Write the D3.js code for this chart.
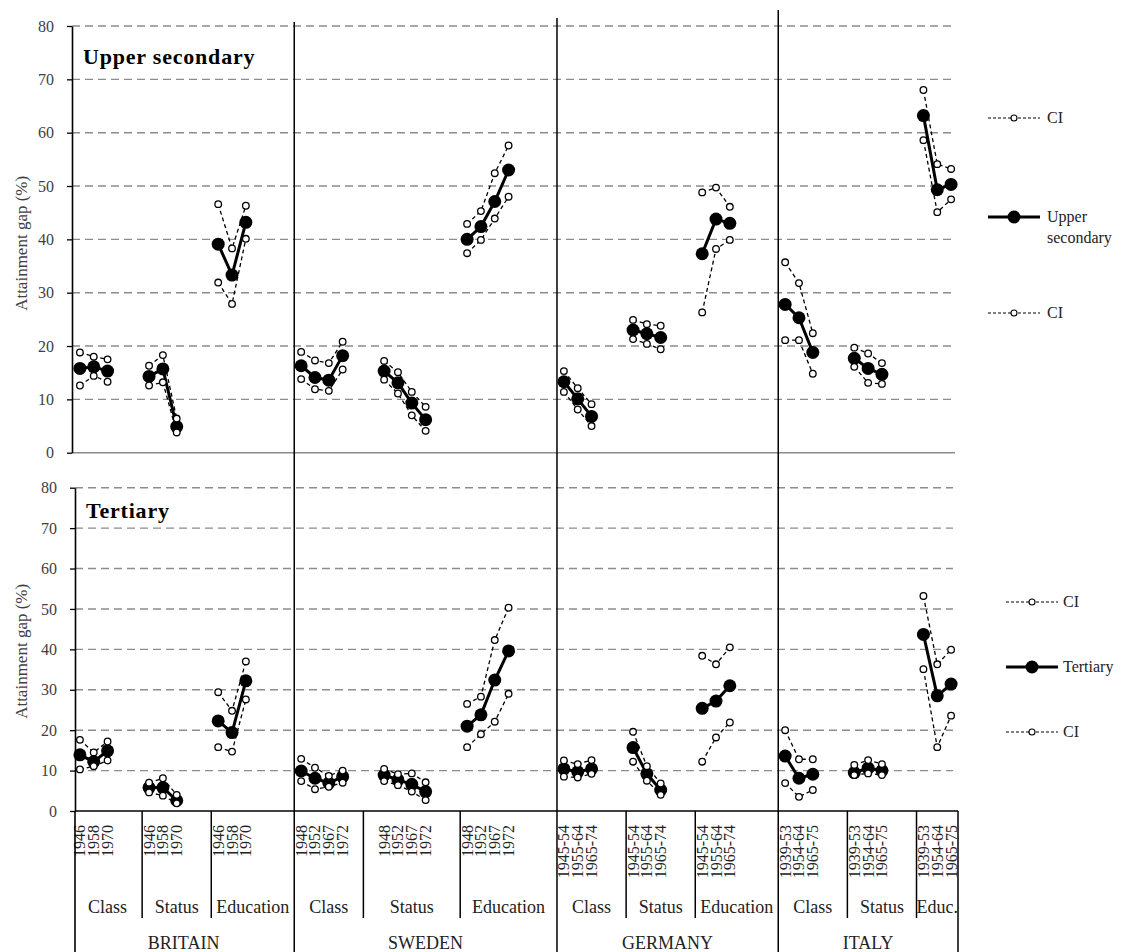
<!DOCTYPE html>
<html>
<head>
<meta charset="utf-8">
<script src="https://cdn.jsdelivr.net/npm/d3@7"></script>
<style>
  html, body { margin: 0; padding: 0; background: #fff; }
  svg text { font-family: "Liberation Serif", "DejaVu Serif", serif; }
</style>
</head>
<body>
<svg id="chart" width="1127" height="952"></svg>
<script>
// ---- Data -------------------------------------------------------------
const countries = ["BRITAIN", "SWEDEN", "GERMANY", "ITALY"];
const categoryNames = [
  ["Class", "Status", "Education"],
  ["Class", "Status", "Education"],
  ["Class", "Status", "Education"],
  ["Class", "Status", "Educ."]
];
const cohorts = [
  ["1946", "1958", "1970"],
  ["1948", "1952", "1967", "1972"],
  ["1945-54", "1955-64", "1965-74"],
  ["1939-53", "1954-64", "1965-75"]
];
const yTicks = [0, 10, 20, 30, 40, 50, 60, 70, 80];

// Upper secondary: attainment gap (%), country -> origin measure -> cohort
const usGap = [
  [[15.8, 16.1, 15.3], [14.3, 15.7, 4.9], [39.1, 33.3, 43.2]],
  [[16.3, 14.1, 13.6, 18.2], [15.3, 13.1, 9.3, 6.2], [40.0, 42.4, 47.1, 53.0]],
  [[13.3, 10.1, 6.8], [23.0, 22.3, 21.6], [37.3, 43.8, 43.0]],
  [[27.8, 25.3, 18.8], [17.7, 15.8, 14.7], [63.2, 49.3, 50.3]]
];
const usHigh = [
  [[18.8, 18.0, 17.5], [16.3, 18.3, 6.4], [46.6, 38.3, 46.3]],
  [[18.9, 17.3, 16.8, 20.8], [17.2, 15.1, 11.4, 8.6], [42.9, 45.3, 52.4, 57.6]],
  [[15.3, 12.1, 9.1], [24.9, 24.1, 23.8], [48.8, 49.7, 46.1]],
  [[35.7, 31.8, 22.4], [19.7, 18.6, 16.8], [68.0, 54.1, 53.2]]
];
const usLow = [
  [[12.6, 14.4, 13.3], [12.6, 13.2, 3.8], [31.9, 27.9, 40.1]],
  [[13.8, 11.9, 11.6, 15.6], [13.7, 11.1, 7.0, 4.1], [37.4, 39.9, 43.9, 48.0]],
  [[11.4, 8.1, 5.0], [21.3, 20.4, 19.4], [26.3, 38.2, 39.9]],
  [[21.1, 21.1, 14.8], [16.1, 13.1, 12.9], [58.6, 45.1, 47.5]]
];

// Tertiary: attainment gap (%)
const terGap = [
  [[13.9, 12.2, 14.9], [5.8, 5.8, 2.6], [22.3, 19.4, 32.2]],
  [[9.9, 8.1, 6.9, 8.5], [8.9, 7.7, 6.6, 4.8], [21.0, 23.8, 32.4, 39.6]],
  [[10.4, 9.7, 10.4], [15.7, 9.2, 5.2], [25.4, 27.2, 31.0]],
  [[13.6, 8.1, 9.1], [9.5, 10.6, 10.0], [43.7, 28.5, 31.4]]
];
const terHigh = [
  [[17.6, 14.5, 17.2], [7.0, 8.1, 4.0], [29.4, 24.8, 37.0]],
  [[12.9, 10.7, 8.7, 10.0], [10.4, 9.1, 9.3, 7.1], [26.5, 28.3, 42.3, 50.3]],
  [[12.5, 11.6, 12.6], [19.6, 11.1, 6.8], [38.4, 36.3, 40.5]],
  [[20.0, 12.8, 12.8], [11.4, 12.6, 11.6], [53.2, 36.3, 39.9]]
];
const terLow = [
  [[10.3, 11.1, 12.5], [4.6, 3.8, 1.9], [15.8, 14.7, 27.6]],
  [[7.4, 5.4, 6.0, 7.0], [7.4, 6.4, 4.8, 2.7], [15.8, 19.0, 22.1, 29.0]],
  [[8.5, 8.3, 9.2], [12.2, 7.5, 4.0], [12.2, 18.2, 21.9]],
  [[6.9, 3.5, 5.2], [8.9, 9.3, 8.9], [35.1, 15.8, 23.6]]
];

// ---- Layout: category cells measured in cohort slots --------------------
const cellSlots = [[5, 5, 6], [5, 7, 7], [5, 5, 6], [5, 5, 3]];
const cellLead = [[0, 0, 0], [0, 1, 0], [0, 0, 0], [0, 0, 0]];

// Build slot positions for every cell
const cells = [];
let cursor = 0;
countries.forEach((c, ci) => {
  const start = cursor;
  cellSlots[ci].forEach((n, k) => {
    cells.push({ ci, k, start: cursor, end: cursor + n, first: cursor + cellLead[ci][k] });
    cursor += n;
  });
  cells.filter(d => d.ci === ci).forEach(d => { d.countryStart = start; d.countryEnd = cursor; });
});
const totalSlots = cursor;

const svg = d3.select("#chart");
svg.append("rect").attr("width", 1127).attr("height", 952).attr("fill", "#fff");

// slot i is centred at x(i); cell boundaries at x(i - 0.5)
const x = d3.scaleLinear().domain([-0.5, totalSlots - 0.5]).range([73, 958]);

const panels = [
  { title: "Upper secondary", gap: usGap, high: usHigh, low: usLow,
    y: d3.scaleLinear().domain([0, 80]).range([452.7, 26]),
    axisX: 72, gridEnd: 955, titleX: 83, titleY: 64, legendName: ["Upper", "secondary"],
    legend: { x0: 988, x1: 1040, tx: 1047, ys: [118, 217, 313] } },
  { title: "Tertiary", gap: terGap, high: terHigh, low: terLow,
    y: d3.scaleLinear().domain([0, 80]).range([811, 487.7]),
    axisX: 75, gridEnd: 953, titleX: 86, titleY: 518, legendName: ["Tertiary"],
    legend: { x0: 1006, x1: 1058, tx: 1063, ys: [602, 667, 732] } }
];

const gridColor = "#8c8c8c";
const textGray = "#404040";

panels.forEach((p, pi) => {
  const g = svg.append("g");
  // dashed gridlines
  g.selectAll("line.grid").data(yTicks.filter(t => t > 0)).join("line")
    .attr("x1", p.axisX).attr("x2", p.gridEnd)
    .attr("y1", d => p.y(d)).attr("y2", d => p.y(d))
    .attr("stroke", gridColor).attr("stroke-width", 1.4)
    .attr("stroke-dasharray", "8,5");
  // zero line
  g.append("line")
    .attr("x1", p.axisX).attr("x2", pi === 0 ? p.gridEnd : x(totalSlots - 0.5))
    .attr("y1", p.y(0)).attr("y2", p.y(0))
    .attr("stroke", pi === 0 ? gridColor : "#000").attr("stroke-width", 1.6);

  // y axis
  const ax = g.append("g").attr("transform", `translate(${p.axisX},0)`)
    .call(d3.axisLeft(p.y).tickValues(yTicks).tickSize(5).tickSizeOuter(0).tickPadding(13));
  ax.select(".domain").attr("stroke", "#000").attr("stroke-width", 1.6);
  ax.selectAll(".tick line").attr("stroke", "#000").attr("stroke-width", 1.3);
  ax.selectAll(".tick text").attr("font-size", 16).attr("fill", textGray)
    .attr("font-family", "Liberation Serif");

  // axis title
  const ym = (p.y(0) + p.y(80)) / 2 + (pi === 0 ? 4 : 2);
  g.append("text")
    .attr("transform", `translate(27,${ym}) rotate(-90)`)
    .attr("text-anchor", "middle").attr("font-size", 17).attr("fill", textGray)
    .text("Attainment gap (%)");

  // panel title
  g.append("text").attr("x", p.titleX).attr("y", p.titleY)
    .attr("font-size", 22).attr("font-weight", "bold").attr("letter-spacing", 0.8)
    .attr("fill", "#000").text(p.title);

  // series
  const line = d3.line().x(d => x(d.slot)).y(d => p.y(d.v));
  cells.forEach(cell => {
    const mk = arr => arr[cell.ci][cell.k].map((v, i) => ({ v, slot: cell.first + i }));
    const main = mk(p.gap), hi = mk(p.high), lo = mk(p.low);
    const sg = g.append("g");
    sg.append("path").attr("d", line(main)).attr("fill", "none")
      .attr("stroke", "#000").attr("stroke-width", 3);
    sg.selectAll("circle.main").data(main).join("circle")
      .attr("cx", d => x(d.slot)).attr("cy", d => p.y(d.v)).attr("r", 6.5).attr("fill", "#000");
    [hi, lo].forEach(ci => {
      sg.append("path").attr("d", line(ci)).attr("fill", "none")
        .attr("stroke", "#000").attr("stroke-width", 1.3).attr("stroke-dasharray", "4,3");
    });
    [hi, lo].forEach(ci => {
      sg.selectAll(null).data(ci).join("circle")
        .attr("cx", d => x(d.slot)).attr("cy", d => p.y(d.v)).attr("r", 3.3)
        .attr("fill", "#fff").attr("stroke", "#000").attr("stroke-width", 1.3);
    });
  });

  // legend
  const L = p.legend;
  const lg = svg.append("g");
  [0, 1, 2].forEach(i => {
    const yy = L.ys[i];
    const isMain = i === 1;
    lg.append("line").attr("x1", L.x0).attr("x2", L.x1).attr("y1", yy).attr("y2", yy)
      .attr("stroke", "#000").attr("stroke-width", isMain ? 3 : 1)
      .attr("stroke-dasharray", isMain ? null : "3,2");
    lg.append("circle").attr("cx", (L.x0 + L.x1) / 2).attr("cy", yy)
      .attr("r", isMain ? 6.5 : 3).attr("fill", isMain ? "#000" : "#fff")
      .attr("stroke", "#000").attr("stroke-width", isMain ? 0 : 1.1);
    const names = isMain ? p.legendName : ["CI"];
    names.forEach((nm, j) => {
      lg.append("text").attr("x", L.tx).attr("y", yy + 5 + j * 21)
        .attr("font-size", 16).attr("fill", "#222").text(nm);
    });
  });
});

// ---- Bottom category axis ------------------------------------------------
const axisY = 811;
const ag = svg.append("g");

// cohort labels, rotated
cells.forEach(cell => {
  cohorts[cell.ci].forEach((lab, i) => {
    const sx = x(cell.first + i) + 5.5;
    ag.append("text")
      .attr("transform", `translate(${sx},825) rotate(-90)`)
      .attr("text-anchor", "end").attr("font-size", 16).attr("fill", "#222")
      .text(lab);
  });
  // category labels
  ag.append("text")
    .attr("x", (x(cell.start - 0.5) + x(cell.end - 0.5)) / 2).attr("y", 913)
    .attr("text-anchor", "middle").attr("font-size", 18).attr("fill", "#222")
    .text(categoryNames[cell.ci][cell.k]);
  // separators between categories within a country
  if (cell.k > 0) {
    ag.append("line").attr("x1", x(cell.start - 0.5)).attr("x2", x(cell.start - 0.5))
      .attr("y1", axisY).attr("y2", 918).attr("stroke", "#000").attr("stroke-width", 1.5);
  }
});

// country labels and separators
const countryTops = [22, 18, 10];
countries.forEach((c, ci) => {
  const cs = cells.find(d => d.ci === ci);
  ag.append("text")
    .attr("x", (x(cs.countryStart - 0.5) + x(cs.countryEnd - 0.5)) / 2).attr("y", 949)
    .attr("text-anchor", "middle").attr("font-size", 18).attr("fill", "#222")
    .text(c);
  if (ci > 0) {
    const xx = x(cs.countryStart - 0.5);
    ag.append("line").attr("x1", xx).attr("x2", xx)
      .attr("y1", countryTops[ci - 1]).attr("y2", 952)
      .attr("stroke", "#000").attr("stroke-width", 1.5);
  }
});
// outer frame of the category axis
ag.append("line").attr("x1", 75).attr("x2", 75).attr("y1", axisY).attr("y2", 952)
  .attr("stroke", "#000").attr("stroke-width", 1.6);
ag.append("line").attr("x1", x(totalSlots - 0.5)).attr("x2", x(totalSlots - 0.5))
  .attr("y1", axisY).attr("y2", 952).attr("stroke", "#000").attr("stroke-width", 1.5);
</script>
</body>
</html>
